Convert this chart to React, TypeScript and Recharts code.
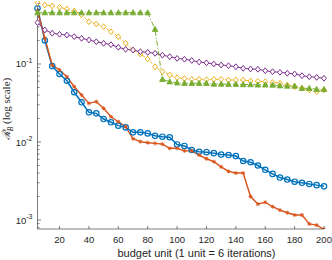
import React from "react";
import { LineChart, Line, XAxis, YAxis } from "recharts";

// budget units (x) — one point every 5 units
const budget = [
  5, 10, 15, 20, 25, 30, 35, 40, 45, 50, 55, 60, 65, 70, 75, 80, 85, 90, 95, 100,
  105, 110, 115, 120, 125, 130, 135, 140, 145, 150, 155, 160, 165, 170, 175, 180, 185, 190, 195, 200,
];

// R_B per method
const blueCircle = [
  0.518, 0.2, 0.094, 0.0744, 0.061, 0.0434, 0.0323, 0.024, 0.0233, 0.0197,
  0.0179, 0.0162, 0.0154, 0.0133, 0.0133, 0.0129, 0.012, 0.0117, 0.0115, 0.0093,
  0.0089, 0.0079, 0.0075, 0.0074, 0.0072, 0.0069, 0.0068, 0.0066, 0.0057, 0.0055,
  0.005, 0.0044, 0.0039, 0.0035, 0.0033, 0.0031, 0.003, 0.0029, 0.0028, 0.0027,
];
const orangeStar = [
  0.48, 0.215, 0.097, 0.0838, 0.0687, 0.0511, 0.04, 0.0313, 0.0329, 0.027,
  0.0211, 0.0182, 0.0157, 0.011, 0.0101, 0.0098, 0.0096, 0.0094, 0.0083, 0.0083,
  0.0077, 0.0077, 0.0068, 0.0061, 0.0056, 0.0048, 0.0042, 0.004, 0.004, 0.002,
  0.0016, 0.00169, 0.00148, 0.00134, 0.00124, 0.00116, 0.00116, 0.00089, 0.00086, 0.00076,
];
const yellowDiamond = [
  0.61, 0.57, 0.555, 0.533, 0.507, 0.478, 0.425, 0.348, 0.326, 0.301,
  0.259, 0.224, 0.184, 0.151, 0.134, 0.116, 0.0923, 0.0796, 0.0722, 0.0667,
  0.0651, 0.0636, 0.0636, 0.063, 0.0636, 0.0636, 0.0623, 0.0623, 0.0623, 0.0605,
  0.06, 0.0593, 0.058, 0.0567, 0.0538, 0.0512, 0.0488, 0.0464, 0.0442, 0.0464,
];
const purpleDiamond = [
  0.339, 0.273, 0.248, 0.24, 0.235, 0.224, 0.213, 0.203, 0.193, 0.184,
  0.177, 0.164, 0.154, 0.151, 0.144, 0.141, 0.137, 0.13, 0.124, 0.118,
  0.115, 0.111, 0.106, 0.1035, 0.1, 0.097, 0.095, 0.0923, 0.088, 0.0863,
  0.0855, 0.082, 0.0796, 0.0783, 0.076, 0.0745, 0.0708, 0.0687, 0.0674, 0.0656,
];
const greenTriangle = [
  0.455, 0.455, 0.455, 0.455, 0.455, 0.455, 0.455, 0.455, 0.455, 0.455,
  0.455, 0.455, 0.455, 0.455, 0.455, 0.455, 0.279, 0.0636, 0.0593, 0.0575,
  0.0566, 0.0566, 0.0566, 0.0566, 0.0554, 0.0554, 0.055, 0.055, 0.0545, 0.0545,
  0.054, 0.054, 0.0538, 0.0527, 0.0522, 0.0522, 0.0488, 0.0488, 0.0474, 0.0474,
];

const xTicks = [20, 40, 60, 80, 100, 120, 140, 160, 180, 200];
const yTicks = [
  0.0008, 0.0009,
  0.001, 0.002, 0.003, 0.004, 0.005, 0.006, 0.007, 0.008, 0.009,
  0.01, 0.02, 0.03, 0.04, 0.05, 0.06, 0.07, 0.08, 0.09,
  0.1, 0.2, 0.3, 0.4, 0.5, 0.6,
];

const data = budget.map((b, i) => ({
  b,
  blue: blueCircle[i],
  orange: orangeStar[i],
  yellow: yellowDiamond[i],
  purple: purpleDiamond[i],
  green: greenTriangle[i],
}));

const AXIS = "#262626";
const SANS = "Liberation Sans, Arial, Helvetica, sans-serif";

const YTick = (props: any) => {
  const { x, y, payload } = props;
  const lg = Math.log10(payload.value);
  const exp = Math.round(lg);
  const major = Math.abs(lg - exp) < 1e-6;
  return (
    <g>
      <line x1={x} x2={x + (major ? 3.5 : 2)} y1={y} y2={y} stroke={AXIS} strokeWidth={0.6} />
      {major && (
        <text x={x - 5} y={y + 3.5} textAnchor="end" fontSize={9.5} fill={AXIS} fontFamily={SANS}>
          10
          <tspan dy={-4.5} fontSize={7}>
            {String(exp)}
          </tspan>
        </text>
      )}
    </g>
  );
};

const XTick = (props: any) => {
  const { x, y, payload } = props;
  return (
    <g>
      <line x1={x} x2={x} y1={y} y2={y - 3} stroke={AXIS} strokeWidth={0.6} />
      <text x={x} y={y + 14.3} textAnchor="middle" fontSize={9.5} fill={AXIS} fontFamily={SANS}>
        {payload.value}
      </text>
    </g>
  );
};

const XLabel = () => (
  <text x={196.5} y={256.5} textAnchor="middle" fontSize={11} fill={AXIS} fontFamily={SANS}>
    budget unit (1 unit = 6 iterations)
  </text>
);

const YLabel = () => (
  <text
    transform="translate(10,109) rotate(-90)"
    textAnchor="middle"
    fontSize={11}
    fill={AXIS}
    fontFamily="Liberation Serif, DejaVu Serif, serif"
  >
    <tspan fontStyle="italic" fontFamily="DejaVu Serif, serif" fontSize={10.5}>ℛ</tspan>
    <tspan fontSize={7.5} dy={2.5} fontStyle="italic">B</tspan>
    <tspan dy={-2.5}> (log scale)</tspan>
  </text>
);

const circleDot = (p: any) => (
  <circle key={`c${p.index}`} cx={p.cx} cy={p.cy} r={2.7} fill="none" stroke="#0072BD" strokeWidth={1.2} />
);

const starDot = (p: any) => {
  const s = 2;
  const d = s * 0.7;
  return (
    <g key={`s${p.index}`} stroke="#D95319" strokeWidth={0.9}>
      <line x1={p.cx - s} x2={p.cx + s} y1={p.cy} y2={p.cy} />
      <line x1={p.cx} x2={p.cx} y1={p.cy - s} y2={p.cy + s} />
      <line x1={p.cx - d} x2={p.cx + d} y1={p.cy - d} y2={p.cy + d} />
      <line x1={p.cx - d} x2={p.cx + d} y1={p.cy + d} y2={p.cy - d} />
    </g>
  );
};

const diamondDot = (color: string) => (p: any) => (
  <path
    key={`d${color}${p.index}`}
    d={`M${p.cx},${p.cy - 2.9} L${p.cx + 2.4},${p.cy} L${p.cx},${p.cy + 2.9} L${p.cx - 2.4},${p.cy} Z`}
    fill="white"
    stroke={color}
    strokeWidth={1}
  />
);

const triangleDot = (p: any) => (
  <path
    key={`t${p.index}`}
    d={`M${p.cx},${p.cy - 3} L${p.cx + 2.8},${p.cy + 2.2} L${p.cx - 2.8},${p.cy + 2.2} Z`}
    fill="#77AC30"
    stroke="#77AC30"
    strokeWidth={0.8}
  />
);

export default function App() {
  return (
    <div style={{ position: "absolute", left: 0, top: 0, width: 332, height: 260, background: "#fff" }}>
      <LineChart width={332} height={260} data={data} margin={{ top: 1, right: 8, bottom: 0, left: 0 }}>
        <XAxis
          dataKey="b"
          type="number"
          domain={[5, 200]}
          ticks={xTicks}
          interval={0}
          tickSize={0}
          tickMargin={0}
          height={31}
          tick={<XTick />}
          axisLine={{ stroke: AXIS, strokeWidth: 0.6 }}
          tickLine={false}
          label={<XLabel />}
        />
        <YAxis
          type="number"
          scale="log"
          domain={[0.000767, 0.642]}
          allowDataOverflow
          ticks={yTicks}
          interval={0}
          tickSize={0}
          tickMargin={0}
          width={37.5}
          tick={<YTick />}
          axisLine={{ stroke: AXIS, strokeWidth: 0.6 }}
          tickLine={false}
          label={<YLabel />}
        />
        <Line dataKey="blue" stroke="#0072BD" strokeWidth={1.5} dot={circleDot} activeDot={false} isAnimationActive={false} />
        <Line dataKey="orange" stroke="#D95319" strokeWidth={1.4} dot={starDot} activeDot={false} isAnimationActive={false} />
        <Line
          dataKey="yellow"
          stroke="#EDB120"
          strokeWidth={1}
          strokeDasharray="3 2"
          dot={diamondDot("#EDB120")}
          activeDot={false}
          isAnimationActive={false}
        />
        <Line dataKey="purple" stroke="#7E2F8E" strokeWidth={1} dot={diamondDot("#7E2F8E")} activeDot={false} isAnimationActive={false} />
        <Line
          dataKey="green"
          stroke="#77AC30"
          strokeWidth={1}
          strokeDasharray="5 2 1 2"
          dot={triangleDot}
          activeDot={false}
          isAnimationActive={false}
        />
      </LineChart>
    </div>
  );
}
